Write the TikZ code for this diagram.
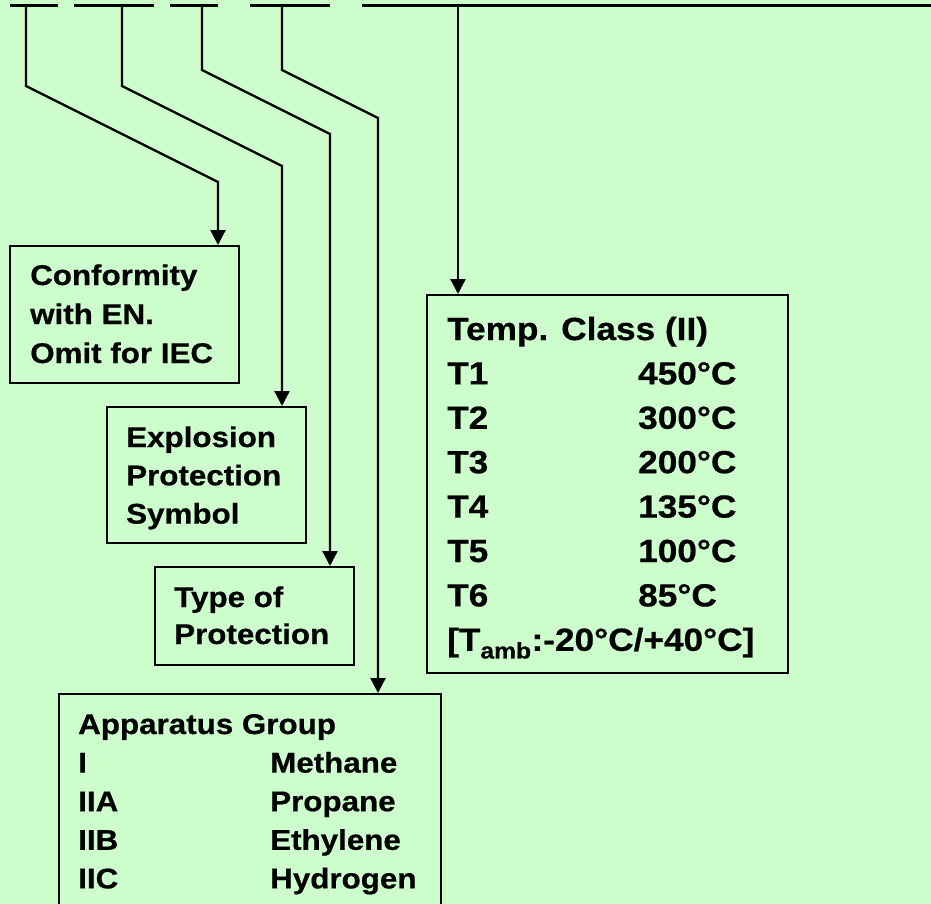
\documentclass[tikz,border=0pt]{standalone}
\usepackage{fontspec}
\setmainfont{Liberation Sans}
\newfontfamily\lbl{Liberation Sans Bold}[FakeStretch=1.1,FakeBold=0.6]
\usetikzlibrary{arrows.meta}
\definecolor{bggreen}{HTML}{CCFFCC}

\tikzset{
  box/.style={draw, line width=1.8pt, fill=bggreen, anchor=north west, inner sep=0pt},
  txt/.style={anchor=base west, inner sep=0pt, font=\lbl},
  conn/.style={line width=2.3pt, -{Triangle[length=15pt,width=15pt]}},
  bar/.style={line width=3pt},
}

\begin{document}
\begin{tikzpicture}[x=1pt,y=-1pt]
\useasboundingbox[fill=bggreen] (0,0) rectangle (931,904);
\clip (0,0) rectangle (931,904);

% marking line
\draw[bar] (10,5.5) -- (58,5.5);
\draw[bar] (74,5.5) -- (154,5.5);
\draw[bar] (170,5.5) -- (218,5.5);
\draw[bar] (250,5.5) -- (330,5.5);
\draw[bar] (362,5.5) -- (931,5.5);
\coordinate (s1) at (26,6);
\coordinate (s2) at (122,6);
\coordinate (s3) at (202,6);
\coordinate (s4) at (282,6);
\coordinate (s5) at (458,6);

% boxes
\node[box, minimum width=229pt, minimum height=137pt] (conf) at (9,245) {};
\node[txt] (conftxt) at (30,285) {\fontsize{28.5}{39}\selectfont
  \begin{tabular}[t]{@{}l@{}}Conformity\\with EN.\\Omit for IEC\end{tabular}};

\node[box, minimum width=199pt, minimum height=136pt] (expl) at (106,406) {};
\node[txt] (expltxt) at (126,447) {\fontsize{28.5}{38.3}\selectfont
  \begin{tabular}[t]{@{}l@{}}Explosion\\Protection\\Symbol\end{tabular}};

\node[box, minimum width=199pt, minimum height=98pt] (type) at (154,566) {};
\node[txt] (typetxt) at (174,607) {\fontsize{28.5}{37}\selectfont
  \begin{tabular}[t]{@{}l@{}}Type of\\Protection\end{tabular}};

\node[box, minimum width=382pt, minimum height=220pt] (appar) at (58,693) {};
\node[txt] (appartxt) at (78,734) {\fontsize{28.5}{38.6}\selectfont
  \begin{tabular}[t]{@{}p{192pt}@{}l@{}}
  \multicolumn{2}{@{}l@{}}{Apparatus Group}\\
  I & Methane\\
  IIA & Propane\\
  IIB & Ethylene\\
  IIC & Hydrogen
  \end{tabular}};

\node[box, minimum width=361pt, minimum height=378pt] (temp) at (426,294) {};
\node[txt] (temptxt) at (447,340) {\fontsize{32}{44.4}\selectfont
  \begin{tabular}[t]{@{}p{191pt}@{}l@{}}
  \multicolumn{2}{@{}l@{}}{Temp. Class (II)}\\
  T1 & 450°C\\
  T2 & 300°C\\
  T3 & 200°C\\
  T4 & 135°C\\
  T5 & 100°C\\
  T6 & 85°C\\
  \multicolumn{2}{@{}l@{}}{[T\textsubscript{amb}:-20°C/+40°C]}
  \end{tabular}};

% connectors
\draw[conn] (s1) -- ++(0,80) -- ++(192,96) coordinate (k1) -- (k1 |- conf.north);
\draw[conn] (s2) -- ++(0,80) -- ++(160,80) coordinate (k2) -- (k2 |- expl.north);
\draw[conn] (s3) -- ++(0,64) -- ++(128,64) coordinate (k3) -- (k3 |- type.north);
\draw[conn] (s4) -- ++(0,64) -- ++(96,48) coordinate (k4) -- (k4 |- appar.north);
\draw[conn] (s5) -- (s5 |- temp.north);
\end{tikzpicture}
\end{document}
